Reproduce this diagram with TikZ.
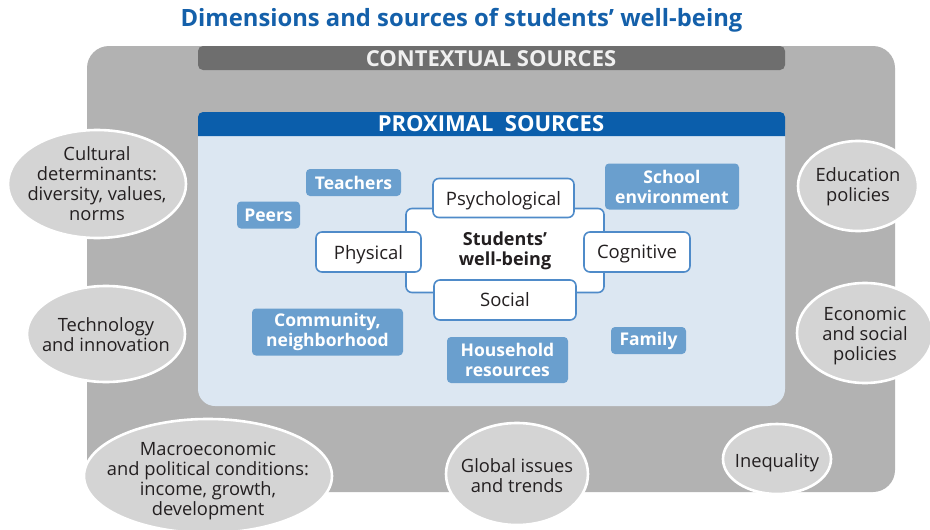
\documentclass[tikz,border=0pt]{standalone}
\usepackage{fontspec}
\setmainfont{Open Sans}
\definecolor{titleblue}{HTML}{1460AA}
\definecolor{outergray}{HTML}{B2B2B2}
\definecolor{ctxgray}{HTML}{6E6E6E}
\definecolor{proxblue}{HTML}{0B5EAB}
\definecolor{lightbody}{HTML}{DCE7F2}
\definecolor{labelblue}{HTML}{6A9FCE}
\definecolor{dimborder}{HTML}{4F8BC9}
\definecolor{ellfill}{HTML}{D4D4D4}
\definecolor{darktext}{HTML}{231F20}
\tikzset{
  srcbox/.style={fill=labelblue, rounded corners=4pt, text=white, font=\fontsize{17.5}{20}\selectfont\bfseries, align=center, inner sep=0pt},
  dimbox/.style={fill=white, draw=dimborder, line width=1.6pt, rounded corners=6pt, text=darktext, font=\fontsize{18.5}{20}\selectfont, inner sep=0pt},
  dimword/.style={dimbox, text depth=0pt},
  ellshape/.style={fill=ellfill, draw=white, line width=2.6pt},
  ctxtext/.style={text=darktext, font=\fontsize{18.3}{20}\selectfont, align=center, inner sep=0pt}
}
\begin{document}
\begin{tikzpicture}[x=1pt,y=-1pt]
\useasboundingbox (0,0) rectangle (930,530);
\fill[white] (0,0) rectangle (930,530);
% title
\node[text=titleblue, font=\fontsize{23.8}{26}\selectfont\bfseries] (title) at (461.5,20) {Dimensions and sources of students’ well-being};
% outer contextual area
\fill[outergray, rounded corners=22pt] (87,46) rectangle (895,492);
\fill[ctxgray, rounded corners=5pt] (198,46) rectangle (785,70);
\node[text=white!94!black, font=\fontsize{22}{22}\selectfont\bfseries] (ctx) at (491,58.5) {CONTEXTUAL SOURCES};
% proximal area
\fill[lightbody, rounded corners=17pt] (198,112) rectangle (785,406);
\fill[proxblue] (198,136) [rounded corners=5pt] -- (198,112) -- (785,112) [sharp corners] -- (785,136) -- cycle;
\node[text=white, font=\fontsize{22}{22}\selectfont\bfseries] (prox) at (491,124) {PROXIMAL\ \ SOURCES};
% central well-being
\node[dimbox, minimum width=198pt, minimum height=84pt, font=\fontsize{18}{20}\selectfont\bfseries, align=center] (wb) at (505,250.5) {Students’\\well-being};
\node[dimword, minimum width=141pt, minimum height=39pt] (psy) at (503.5,198) {Psychological};
\node[dimword, minimum width=105pt, minimum height=40pt] (phy) at (368.5,252) {Physical};
\node[dimword, minimum width=106pt, minimum height=40pt] (cog) at (637,252) {Cognitive};
\node[dimbox, minimum width=142pt, minimum height=40pt] (soc) at (505,300) {Social};
% proximal sources
\node[srcbox, minimum width=95pt, minimum height=27pt] (teach) at (353.5,182.5) {Teachers};
\node[srcbox, minimum width=63pt, minimum height=27pt] (peers) at (268.5,215) {Peers};
\node[srcbox, minimum width=134pt, minimum height=46pt] (school) at (672,186.5) {School\\environment};
\node[srcbox, minimum width=151pt, minimum height=47pt] (comm) at (327.5,332) {Community,\\neighborhood};
\node[srcbox, minimum width=121pt, minimum height=46pt] (house) at (507.5,360) {Household\\resources};
\node[srcbox, minimum width=75pt, minimum height=27pt] (fam) at (648.5,340.5) {Family};
% contextual sources
\path[ellshape] (97,184) ellipse [x radius=89, y radius=54];
\node[ctxtext] (cult) at (97,184) {Cultural\\determinants:\\diversity, values,\\norms};
\path[ellshape] (106,334) ellipse [x radius=79, y radius=48];
\node[ctxtext] (tech) at (106,334.5) {Technology\\and innovation};
\path[ellshape] (208,476) ellipse [x radius=124, y radius=57];
\node[ctxtext] (macro) at (208,480.5) {Macroeconomic\\and political conditions:\\income, growth,\\development};
\path[ellshape] (517,474) ellipse [x radius=71, y radius=51];
\node[ctxtext] (glob) at (517,476) {Global issues\\and trends};
\path[ellshape] (777,459) ellipse [x radius=54, y radius=35];
\node[ctxtext] (ineq) at (777,462.5) {Inequality};
\path[ellshape] (858,186) ellipse [x radius=60, y radius=45];
\node[ctxtext] (edu) at (858,187) {Education\\policies};
\path[ellshape] (865,333) ellipse [x radius=68, y radius=50];
\node[ctxtext] (econ) at (865,335.5) {Economic\\and social\\policies};
\end{tikzpicture}
\end{document}
